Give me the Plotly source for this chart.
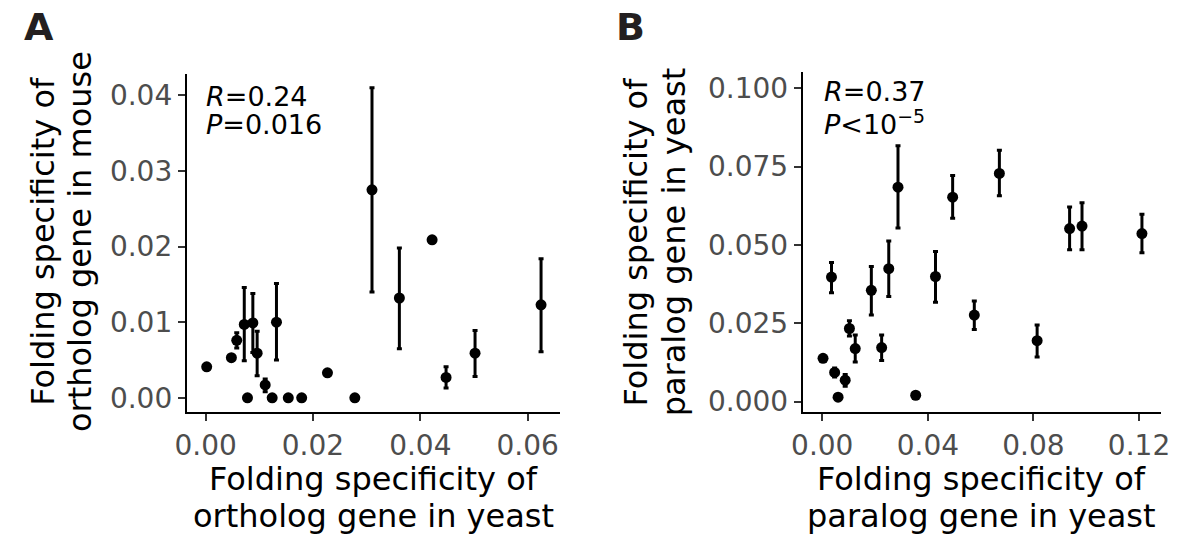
import plotly.graph_objects as go

W, H = 1182, 551

# Panel A: ortholog folding specificity, yeast (x) vs mouse (y)
ortho_yeast = [0.0002, 0.0048, 0.0058, 0.0072, 0.0078, 0.0088, 0.0096, 0.0111, 0.0124, 0.0132,
               0.0154, 0.0179, 0.0227, 0.0278, 0.0310, 0.0361, 0.0422, 0.0448, 0.0502, 0.0625]
ortho_mouse = [0.0041, 0.0053, 0.0076, 0.0097, 0.0000, 0.0099, 0.0059, 0.0017, 0.0000, 0.0100,
               0.0000, 0.0000, 0.0033, 0.0000, 0.0275, 0.0132, 0.0209, 0.0027, 0.0059, 0.0123]
ortho_mouse_lo = [None, None, 0.0066, 0.0049, None, 0.0060, 0.0029, 0.0008, None, 0.0050,
                  None, None, None, None, 0.0140, 0.0065, None, 0.0013, 0.0028, 0.0061]
ortho_mouse_hi = [None, None, 0.0086, 0.0146, None, 0.0138, 0.0088, 0.0025, None, 0.0151,
                  None, None, None, None, 0.0410, 0.0198, None, 0.0041, 0.0089, 0.0184]

# Panel B: paralog folding specificity in yeast
para_x = [0.0003, 0.0035, 0.0047, 0.0060, 0.0087, 0.0103, 0.0125, 0.0186, 0.0225, 0.0252,
          0.0287, 0.0354, 0.0429, 0.0494, 0.0576, 0.0671, 0.0814, 0.0937, 0.0984, 0.1211]
para_y = [0.0138, 0.0397, 0.0093, 0.0014, 0.0068, 0.0233, 0.0169, 0.0355, 0.0172, 0.0424,
          0.0684, 0.0020, 0.0399, 0.0652, 0.0276, 0.0728, 0.0194, 0.0552, 0.0560, 0.0536]
para_y_lo = [None, 0.0347, 0.0078, None, 0.0049, 0.0209, 0.0126, 0.0276, 0.0131, 0.0335,
             0.0554, None, 0.0317, 0.0585, 0.0230, 0.0657, 0.0142, 0.0484, 0.0484, 0.0475]
para_y_hi = [None, 0.0444, 0.0107, None, 0.0086, 0.0258, 0.0212, 0.0431, 0.0212, 0.0512,
             0.0816, None, 0.0479, 0.0721, 0.0321, 0.0802, 0.0244, 0.0621, 0.0634, 0.0598]

ticks_a_x = [0.00, 0.02, 0.04, 0.06]
ticks_a_y = [0.00, 0.01, 0.02, 0.03, 0.04]
ticks_b_x = [0.00, 0.04, 0.08, 0.12]
ticks_b_y = [0.000, 0.025, 0.050, 0.075, 0.100]

stats_a = ["<i>R</i>=0.24", "<i>P</i>=0.016"]
stats_b = ["<i>R</i>=0.37", "<i>P</i>&lt;10<sup>\u22125</sup>"]

FONT = "DejaVu Sans, Liberation Sans, Arial, sans-serif"


def err(vals, lo, hi):
    plus = [(h - v) if h is not None else 0 for v, h in zip(vals, hi)]
    minus = [(v - l) if l is not None else 0 for v, l in zip(vals, lo)]
    return plus, minus


def px_x(p):
    return p / W


def px_y(p):
    return 1 - p / H


fig = go.Figure()

pa, ma = err(ortho_mouse, ortho_mouse_lo, ortho_mouse_hi)
fig.add_trace(go.Scatter(
    x=ortho_yeast, y=ortho_mouse, mode="markers", xaxis="x", yaxis="y",
    marker=dict(size=11, color="black"),
    error_y=dict(type="data", symmetric=False, array=pa, arrayminus=ma,
                 color="black", thickness=3, width=2.5),
    hoverinfo="x+y",
))

pb, mb = err(para_y, para_y_lo, para_y_hi)
fig.add_trace(go.Scatter(
    x=para_x, y=para_y, mode="markers", xaxis="x2", yaxis="y2",
    marker=dict(size=11, color="black"),
    error_y=dict(type="data", symmetric=False, array=pb, arrayminus=mb,
                 color="black", thickness=3, width=2.5),
    hoverinfo="x+y",
))

axis_common = dict(
    showline=True, linecolor="black", linewidth=2,
    ticks="outside", ticklen=7, tickwidth=1.5, tickcolor="#333333",
    showgrid=False, zeroline=False,
    tickfont=dict(family=FONT, size=28, color="#4D4D4D"),
)

fig.update_layout(
    width=W, height=H,
    margin=dict(l=0, r=0, t=0, b=0),
    paper_bgcolor="white", plot_bgcolor="white",
    showlegend=False,
    xaxis=dict(domain=[px_x(178), px_x(558.3)], range=[-0.0035, 0.0661],
               tickvals=ticks_a_x, ticktext=[f"{v:.2f}" for v in ticks_a_x],
               anchor="y", **axis_common),
    yaxis=dict(domain=[px_y(416.7), px_y(75)], range=[-0.0019, 0.0428],
               tickvals=ticks_a_y, ticktext=[f"{v:.2f}" for v in ticks_a_y],
               anchor="x", **axis_common),
    xaxis2=dict(domain=[px_x(805), px_x(1170)], range=[-0.0074, 0.1284],
                tickvals=ticks_b_x, ticktext=[f"{v:.2f}" for v in ticks_b_x],
                anchor="y2", **axis_common),
    yaxis2=dict(domain=[px_y(416.7), px_y(73)], range=[-0.0034, 0.1051],
                tickvals=ticks_b_y, ticktext=[f"{v:.3f}" for v in ticks_b_y],
                anchor="x2", **axis_common),
)

ann = []


def add_text(text, x, y, size, xanchor="center", yanchor="middle", angle=0,
             color="black", bold=False):
    ann.append(dict(
        text=f"<b>{text}</b>" if bold else text,
        x=px_x(x), y=px_y(y), xref="paper", yref="paper",
        xanchor=xanchor, yanchor=yanchor, textangle=angle, showarrow=False,
        font=dict(family=FONT, size=size, color=color),
    ))


# panel letters
add_text("A", 27, 27, 38, bold=True, color="#231F20")
add_text("B", 630, 27, 38, bold=True, color="#231F20")

# x-axis titles (two lines each)
add_text("Folding specificity of", 368, 484, 32)
add_text("ortholog gene in yeast", 368, 522, 32)
add_text("Folding specificity of", 987, 484, 32)
add_text("paralog gene in yeast", 987, 522, 32)

# y-axis titles (rotated, two lines each)
add_text("Folding specificity of", 32, 244, 32, angle=-90)
add_text("ortholog gene in mouse", 70, 244, 32, angle=-90)
add_text("Folding specificity of", 635.5, 245, 32, angle=-90)
add_text("paralog gene in yeast", 674, 245, 32, angle=-90)

# correlation statistics
add_text(stats_a[0], 195, 115, 27, xanchor="left", yanchor="bottom")
add_text(stats_a[1], 195, 143.5, 27, xanchor="left", yanchor="bottom")
add_text(stats_b[0], 825, 110, 27, xanchor="left", yanchor="bottom")
add_text(stats_b[1], 825, 143.5, 27, xanchor="left", yanchor="bottom")

fig.update_layout(annotations=ann)

fig.write_html("out.html")
